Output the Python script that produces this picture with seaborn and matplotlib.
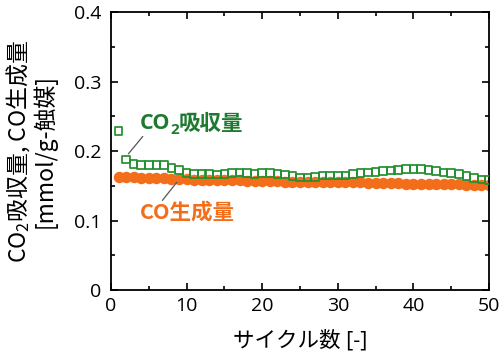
import matplotlib
matplotlib.use("Agg")
import matplotlib.pyplot as plt
import seaborn as sns
import pandas as pd
from matplotlib.ticker import MultipleLocator

# cycle numbers and measured values (mmol/g-catalyst)
cycles = list(range(1, 51))
co2_uptake = [0.229, 0.188, 0.181, 0.180, 0.180, 0.180, 0.180, 0.176, 0.173, 0.168,
              0.167, 0.167, 0.167, 0.166, 0.167, 0.168, 0.169, 0.168, 0.167, 0.168,
              0.168, 0.167, 0.166, 0.164, 0.162, 0.162, 0.163, 0.165, 0.165, 0.165,
              0.165, 0.167, 0.168, 0.169, 0.170, 0.171, 0.172, 0.173, 0.174, 0.174,
              0.174, 0.173, 0.171, 0.169, 0.168, 0.167, 0.164, 0.161, 0.159, 0.158]
co_yield = [0.162, 0.162, 0.162, 0.161, 0.161, 0.161, 0.161, 0.160, 0.160, 0.160,
            0.159, 0.159, 0.159, 0.158, 0.158, 0.158, 0.158, 0.157, 0.157, 0.157,
            0.157, 0.157, 0.156, 0.156, 0.156, 0.156, 0.156, 0.156, 0.155, 0.155,
            0.155, 0.155, 0.155, 0.154, 0.154, 0.154, 0.154, 0.154, 0.153, 0.153,
            0.153, 0.153, 0.152, 0.152, 0.152, 0.152, 0.151, 0.151, 0.151, 0.151]

x_ticks = [0, 10, 20, 30, 40, 50]
y_ticks = [0, 0.1, 0.2, 0.3, 0.4]
y_tick_labels = ["0", "0.1", "0.2", "0.3", "0.4"]

GREEN = "#23902f"
GREEN_TXT = "#1d7a30"
ORANGE = "#f26e1a"
LEADER = "#555555"

df = pd.DataFrame({"cycle": cycles, "co2": co2_uptake, "co": co_yield})

sns.set_style("ticks")
plt.rcParams["font.family"] = ["Open Sans", "Noto Sans CJK JP", "DejaVu Sans"]
plt.rcParams["mathtext.fontset"] = "custom"
plt.rcParams["mathtext.rm"] = "Noto Sans CJK JP"
plt.rcParams["text.color"] = "black"
plt.rcParams["axes.labelcolor"] = "black"
plt.rcParams["xtick.color"] = "black"
plt.rcParams["ytick.color"] = "black"

fig = plt.figure(figsize=(5, 3.55), dpi=100)
ax = fig.add_axes([0.222, 0.183, 0.756, 0.783])

sns.scatterplot(data=df, x="cycle", y="co", marker="o", s=68,
                color=ORANGE, edgecolor=ORANGE, linewidth=0, ax=ax, zorder=2)
sns.scatterplot(data=df, x="cycle", y="co2", marker="s", s=30,
                facecolor="none", edgecolor=GREEN, linewidth=1.25, ax=ax, zorder=3)

ax.set_xlim(0, 50)
ax.set_ylim(0, 0.4)
ax.set_xticks(x_ticks)
ax.set_yticks(y_ticks)
ax.set_yticklabels(y_tick_labels)
ax.xaxis.set_minor_locator(MultipleLocator(5))
ax.yaxis.set_minor_locator(MultipleLocator(0.05))
ax.tick_params(which="both", direction="in", top=True, right=True,
               labelsize=14, width=1.2, color="black", labelcolor="black")
ax.tick_params(which="major", length=5)
ax.tick_params(which="minor", length=3)
ax.tick_params(axis="x", pad=5)
ax.tick_params(axis="y", pad=7)
for sp in ax.spines.values():
    sp.set_linewidth(1.3)
    sp.set_color("black")

ax.set_xlabel("サイクル数 [-]", fontsize=15.5)
ax.xaxis.set_label_coords(0.5, -0.145)
ax.set_ylabel("CO$_\\mathrm{2}$吸収量, CO生成量\n[mmol/g-触媒]", fontsize=16.5,
              linespacing=1.0, family="Noto Sans CJK JP")
ax.yaxis.set_label_coords(-0.143, 0.5)

# green label with a real subscript, built from chained text pieces
lab_font = ["Open Sans", "Noto Sans CJK JP"]
t = ax.text(3.8, 0.240, "CO", fontsize=15.5, fontweight="bold", color=GREEN_TXT,
            va="center", ha="left", family=lab_font)
s = ax.annotate("2", xy=(1, 0), xycoords=t, xytext=(0, -2),
                textcoords="offset points", fontsize=11, fontweight="bold",
                color=GREEN_TXT, va="bottom", ha="left", family=lab_font)
ax.annotate("吸収量", xy=(1, 0), xycoords=s, xytext=(0, 2),
            textcoords="offset points", fontsize=15.5, fontweight="bold",
            color=GREEN_TXT, va="bottom", ha="left", family=["Noto Sans CJK JP"])

ax.text(3.8, 0.112, "CO生成量", fontsize=15.5, fontweight="bold", color=ORANGE,
        va="center", ha="left", family=["Noto Sans CJK JP"])

# leader lines from labels to the series
ax.plot([4.2, 2.3], [0.221, 0.196], color=LEADER, lw=0.9, zorder=4)
ax.plot([6.8, 8.7], [0.129, 0.155], color=LEADER, lw=0.9, zorder=4)

fig.savefig("out.png", dpi=100)
